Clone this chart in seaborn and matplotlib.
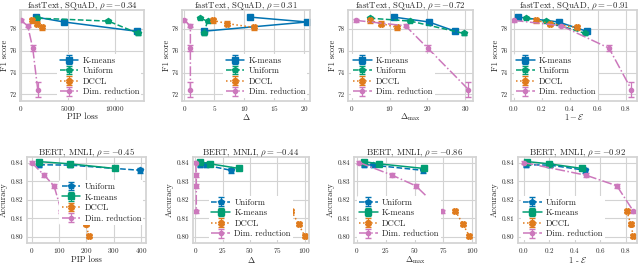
import numpy as np
import matplotlib
matplotlib.use("Agg")
import matplotlib.pyplot as plt
import seaborn as sns

# ---- fastText / SQuAD (top row) ----
ft_titles = [r"fastText, SQuAD, $\rho=-0.34$", r"fastText, SQuAD, $\rho=0.31$",
             r"fastText, SQuAD, $\rho=-0.72$", r"fastText, SQuAD, $\rho=-0.91$"]
ft_xlabels = ["PIP loss", r"$\Delta$", r"$\Delta_{\max}$", r"$1-\mathcal{E}$"]

ft_kmeans_y = [79.1, 78.65, 77.8]
ft_kmeans_err = [0.15, 0.12, 0.12]
ft_uniform_y = [79.0, 78.73, 77.6]
ft_uniform_err = [0.1, 0.1, 0.1]
ft_dccl_y = [78.8, 78.5, 78.15]
ft_dccl_err = [0.2, 0.2, 0.2]
ft_dim_y = [78.8, 78.3, 76.25, 72.45]
ft_dim_err = [0.15, 0.15, 0.25, 0.65]

ft_kmeans_x = [[1620, 4580, 12260], [10.9, 20.5, 3.2], [11.1, 20.4, 27.4], [0.03, 0.32, 0.52]]
ft_uniform_x = [[1760, 9260, 12430], [2.6, 3.9, 3.2], [4.7, 15.5, 29.7], [0.087, 0.23, 0.51]]
ft_dccl_x = [[1230, 1760, 2220], [4.7, 7.2, 11.6], [4.7, 7.8, 12.0], [0.16, 0.26, 0.45]]
ft_dim_x = [[0, 740, 1270, 1800], [0.0, 1.0, 1.0, 1.0], [1.0, 14.2, 20.1, 30.9], [0.0, 0.34, 0.68, 0.84]]

# ---- BERT / MNLI (bottom row) ----
bert_titles = [r"BERT, MNLI, $\rho=-0.45$", r"BERT, MNLI, $\rho=-0.44$",
               r"BERT, MNLI, $\rho=-0.86$", r"BERT, MNLI, $\rho=-0.92$"]
bert_xlabels = ["PIP loss", r"$\Delta$", r"$\Delta_{\max}$", r"1 - $\mathcal{E}$"]

bert_uniform_y = [0.839, 0.8388, 0.836]
bert_uniform_err = [0.0012, 0.0012, 0.0012]
bert_kmeans_y = [0.8407, 0.8395, 0.837]
bert_kmeans_err = [0.0008, 0.0008, 0.0006]
bert_dccl_y = [0.814, 0.8068, 0.8005]
bert_dccl_err = [0.0012, 0.0012, 0.0012]
bert_dim_y = [0.8402, 0.8333, 0.8276, 0.8138]
bert_dim_err = [0.001, 0.001, 0.001, 0.0008]

bert_uniform_x = [[28, 140, 397], [4.3, 9.7, 32.5], [6.3, 13.5, 57.0], [0.018, 0.207, 0.484]]
bert_kmeans_x = [[28, 140, 304], [4.3, 13.6, 40.0], [6.0, 19.0, 58.0], [0.03, 0.2, 0.458]]
bert_dccl_x = [[190, 198, 210], [88.0, 94.5, 100.0], [85.5, 92.0, 97.5], [0.808, 0.839, 0.859]]
bert_dim_x = [[0, 46, 82, 109], [0.5, 1.0, 1.0, 1.0], [2.0, 30.7, 51.0, 74.0], [0.0, 0.49, 0.73, 0.86]]

sns.set_theme(style="whitegrid", palette="colorblind")
plt.rcParams["font.family"] = "serif"
plt.rcParams["font.serif"] = ["cmr10", "DejaVu Serif"]
plt.rcParams["mathtext.fontset"] = "cm"
plt.rcParams["axes.formatter.use_mathtext"] = True
plt.rcParams["axes.unicode_minus"] = True

pal = sns.color_palette("colorblind")
blue, green, pink = pal[0], pal[2], pal[4]
orange = "#e07b1c"

fig = plt.figure(figsize=(6.4, 2.66), dpi=100)
W, H = 640.0, 266.0

def rect(x0, x1, y0, y1):
    return [x0 / W, 1 - y1 / H, (x1 - x0) / W, (y1 - y0) / H]

# axes boxes in pixels: (left, right, top, bottom)
top_px = [(20, 144, 10, 101), (182, 310, 10, 101), (348, 473, 10, 101), (511, 637, 10, 101)]
bot_px = [(27, 146, 157, 243), (193, 309, 157, 243), (354, 476, 157, 243), (518, 637, 157, 243)]
top_ylab_dx, top_xlab_y = 15, 117      # label offsets / centres (pixels)
bot_ylab_dx, bot_xlab_y = 23, 260

top_xlims = [(-75, 13030), (-0.4, 21.0), (-1.05, 32.1), (-0.02, 0.88)]
bot_xlims = [(-17, 419), (-2, 104), (-2.6, 103.4), (-0.044, 0.888)]
top_xticks = [[0, 5000, 10000], [0, 5, 10, 15, 20], [0, 10, 20, 30], [0.0, 0.2, 0.4, 0.6, 0.8]]
bot_xticks = [[0, 100, 200, 300, 400], [0, 25, 50, 75, 100], [0, 25, 50, 75, 100],
              [0.0, 0.2, 0.4, 0.6, 0.8]]
top_leg = [dict(loc="lower right"), dict(loc="lower right"),
           dict(loc="lower left"), dict(loc="lower left")]
bot_leg = [dict(loc="center right", bbox_to_anchor=(1.0, 0.47)), dict(loc="lower center"),
           dict(loc="lower left"), dict(loc="lower left")]

def draw(ax, x, y, err, color, ls, marker, ms, label):
    ax.errorbar(x, y, yerr=err, color=color, ls=ls, marker=marker, ms=ms,
                capsize=2, elinewidth=0.9, lw=1.1, label=label)

def style(ax, box, ylab_dx, xlab_y, title, xlabel, ylabel, xlim, ylim, xticks, yticks, yfmt, leg):
    x0, x1, y0, y1 = box
    ax.set_title(title, fontsize=6.3, pad=1.5)
    ax.set_xlabel(xlabel, fontsize=6.2)
    ax.set_ylabel(ylabel, fontsize=6.2)
    ax.xaxis.label.set_va("center")
    ax.yaxis.label.set_va("center")
    ax.xaxis.set_label_coords(0.5, -(xlab_y - y1) / (y1 - y0))
    ax.yaxis.set_label_coords(-ylab_dx / (x1 - x0), 0.5)
    ax.set_xlim(*xlim)
    ax.set_ylim(*ylim)
    ax.set_xticks(xticks)
    ax.set_yticks(yticks)
    ax.set_yticklabels([yfmt % v for v in yticks])
    ax.tick_params(labelsize=5.2, length=0, pad=2.5)
    ax.tick_params(axis="x", pad=2)
    ax.grid(True, color="#d3d3d3", lw=0.8)
    for s in ax.spines.values():
        s.set_color("#d3d3d3")
    lg = ax.legend(fontsize=6.2, frameon=True, framealpha=1, edgecolor="white",
                   handlelength=2.2, handletextpad=0.5, labelspacing=0.25,
                   borderpad=0.25, borderaxespad=0.3, **leg)
    lg.get_frame().set_linewidth(0)

for i in range(4):
    b = top_px[i]
    ax = fig.add_axes(rect(b[0], b[1], b[2], b[3]))
    draw(ax, ft_kmeans_x[i], ft_kmeans_y, ft_kmeans_err, blue, "-", "s", 4.5, "K-means")
    draw(ax, ft_uniform_x[i], ft_uniform_y, ft_uniform_err, green, "--", "p", 4, "Uniform")
    draw(ax, ft_dccl_x[i], ft_dccl_y, ft_dccl_err, orange, ":", "X", 4, "DCCL")
    draw(ax, ft_dim_x[i], ft_dim_y, ft_dim_err, pink, "-.", "o", 3, "Dim. reduction")
    style(ax, b, top_ylab_dx, top_xlab_y, ft_titles[i], ft_xlabels[i], "F1 score",
          top_xlims[i], (71.4, 79.75), top_xticks[i], [72, 74, 76, 78], "%d", top_leg[i])

for i in range(4):
    b = bot_px[i]
    ax = fig.add_axes(rect(b[0], b[1], b[2], b[3]))
    draw(ax, bert_uniform_x[i], bert_uniform_y, bert_uniform_err, blue, "--", "p", 4, "Uniform")
    draw(ax, bert_kmeans_x[i], bert_kmeans_y, bert_kmeans_err, green, "-", "s", 4.5, "K-means")
    draw(ax, bert_dccl_x[i], bert_dccl_y, bert_dccl_err, orange, ":", "X", 4, "DCCL")
    draw(ax, bert_dim_x[i], bert_dim_y, bert_dim_err, pink, "-.", "o", 3, "Dim. reduction")
    style(ax, b, bot_ylab_dx, bot_xlab_y, bert_titles[i], bert_xlabels[i], "Accuracy",
          bot_xlims[i], (0.7966, 0.8432), bot_xticks[i], [0.80, 0.81, 0.82, 0.83, 0.84],
          "%.2f", bot_leg[i])

fig.savefig("out.png", dpi=100)
